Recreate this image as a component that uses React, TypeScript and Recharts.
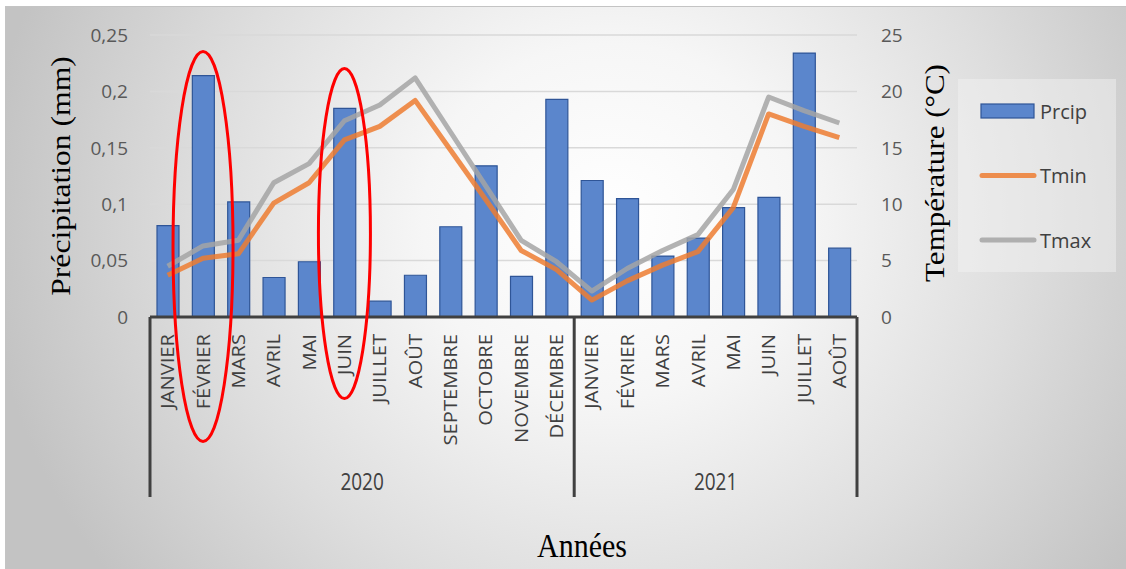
import React from 'react';
import {
  ComposedChart,
  Bar,
  Line,
  XAxis,
  YAxis,
  CartesianGrid,
  Legend,
  ReferenceDot,
} from 'recharts';

const months2020 = ['JANVIER', 'FÉVRIER', 'MARS', 'AVRIL', 'MAI', 'JUIN', 'JUILLET', 'AOÛT', 'SEPTEMBRE', 'OCTOBRE', 'NOVEMBRE', 'DÉCEMBRE'];
const months2021 = ['JANVIER', 'FÉVRIER', 'MARS', 'AVRIL', 'MAI', 'JUIN', 'JUILLET', 'AOÛT'];

// monthly precipitation (mm) and temperatures (°C), Jan 2020 – Aug 2021
const prcip = [0.081, 0.214, 0.102, 0.035, 0.049, 0.185, 0.014, 0.037, 0.080, 0.134, 0.036, 0.193, 0.121, 0.105, 0.054, 0.070, 0.097, 0.106, 0.234, 0.061];
const tmin = [3.7, 5.2, 5.6, 10.1, 11.9, 15.7, 16.9, 19.2, 14.8, 10.4, 5.9, 4.2, 1.5, 3.2, 4.6, 5.8, 9.7, 18.0, 16.9, 15.9];
const tmax = [4.5, 6.3, 6.8, 11.9, 13.6, 17.4, 18.8, 21.2, 16.4, 11.6, 6.8, 4.9, 2.3, 4.3, 5.9, 7.3, 11.3, 19.5, 18.3, 17.2];

const precipTicks = [0, 0.05, 0.1, 0.15, 0.2, 0.25];
const tempTicks = [0, 5, 10, 15, 20, 25];

// months highlighted with a red ring
const circled = ['2020-FÉVRIER', '2020-JUIN'];

const rows = [
  ...months2020.map((month) => ({ year: '2020', month })),
  ...months2021.map((month) => ({ year: '2021', month })),
].map((r, i) => ({
  ...r,
  key: `${r.year}-${r.month}`,
  prcip: prcip[i],
  tmin: tmin[i],
  tmax: tmax[i],
}));

const SANS = "'Open Sans', sans-serif";
const SERIF = "'Liberation Serif', 'Times New Roman', serif";
const AXIS_DARK = '#404040';

// two-level category axis: month names, then year groups with separators
const MonthTick = (props: any) => {
  const { x, y, payload, index } = props;
  const row = rows[index];
  if (!row) return null;
  const half = payload?.offset ?? 0;
  const groupStart = index === 0 || rows[index - 1].year !== row.year;
  const isLast = index === rows.length - 1;
  const groupSize = rows.filter((r) => r.year === row.year).length;
  return (
    <g>
      <text
        transform={`translate(${x},${y + 17}) rotate(-90) scale(1.12,1)`}
        textAnchor="end"
        dominantBaseline="central"
        fontFamily={SANS}
        fontSize={18}
        fill={AXIS_DARK}
      >
        {row.month}
      </text>
      {groupStart && (
        <>
          <line x1={x - half} x2={x - half} y1={y} y2={y + 180} stroke={AXIS_DARK} strokeWidth={3} />
          <text
            transform={`translate(${x + (groupSize - 1) * half},${y + 164}) scale(1,1.2)`}
            textAnchor="middle"
            dominantBaseline="central"
            fontFamily={SANS}
            fontSize={19}
            fill={AXIS_DARK}
          >
            {row.year}
          </text>
        </>
      )}
      {isLast && (
        <line x1={x + half} x2={x + half} y1={y} y2={y + 180} stroke={AXIS_DARK} strokeWidth={3} />
      )}
    </g>
  );
};

const LeftTitle = (props: any) => {
  const vb = props.viewBox;
  return (
    <text
      transform={`translate(${vb.x + 61},${vb.y + vb.height / 2}) rotate(-90) scale(1.17,1)`}
      textAnchor="middle"
      dominantBaseline="central"
      fontFamily={SERIF}
      fontSize={27}
      fill="#000"
    >
      Précipitation (mm)
    </text>
  );
};

const RightTitle = (props: any) => {
  const vb = props.viewBox;
  return (
    <text
      transform={`translate(${vb.x + 78},${vb.y + vb.height / 2 - 3}) rotate(-90) scale(1.15,1)`}
      textAnchor="middle"
      dominantBaseline="central"
      fontFamily={SERIF}
      fontSize={27}
      fill="#000"
    >
      Température (°C)
    </text>
  );
};

const BottomTitle = (props: any) => {
  const vb = props.viewBox;
  return (
    <text
      transform={`translate(${vb.x + 432},${vb.y + 240}) scale(1,1.1)`}
      textAnchor="middle"
      fontFamily={SERIF}
      fontSize={30}
      fill="#000"
    >
      Années
    </text>
  );
};

const legendOrder = ['prcip', 'tmin', 'tmax'];

const LegendBox = (props: any) => {
  const payload: any[] = props.payload || [];
  const items = legendOrder
    .map((k) => payload.find((p) => p.dataKey === k))
    .filter(Boolean);
  return (
    <svg width={158} height={193} style={{ display: 'block' }}>
      <rect x={0} y={0} width={158} height={193} fill="#f4f4f4" fillOpacity={0.45} />
      {items.map((p: any, i: number) => {
        const cy = 32 + i * 64.5;
        return (
          <g key={p.dataKey}>
            {p.type === 'rect' ? (
              <rect x={23} y={cy - 7} width={53} height={14} fill={p.color} stroke="#2f5597" strokeWidth={1.2} />
            ) : (
              <line x1={24} x2={76} y1={cy} y2={cy} stroke={p.color} strokeOpacity={0.85} strokeWidth={5} strokeLinecap="round" />
            )}
            <text x={82} y={cy} dominantBaseline="central" fontFamily={SANS} fontSize={20} fill={AXIS_DARK}>
              {p.value}
            </text>
          </g>
        );
      })}
    </svg>
  );
};

const ringSize: Record<string, { rx: number; ry: number; y: number }> = {
  '2020-FÉVRIER': { rx: 30, ry: 195, y: 0.0625 },
  '2020-JUIN': { rx: 26, ry: 165, y: 0.074 },
};

const App: React.FC = () => {
  return (
    <div style={{ position: 'relative', width: 1126, height: 569, background: '#fff' }}>
      <style>{'body{margin:0}'}</style>
      <div
        style={{
          position: 'absolute',
          left: 5,
          top: 6,
          right: 0,
          bottom: 0,
          borderTop: '1px solid #c4c4c4',
          borderLeft: '1px solid #c4c4c4',
          background:
            'radial-gradient(ellipse 56% 105% at 54% 38%, #ffffff 0%, #f6f6f6 30%, #dedede 65%, #c3c3c3 100%)',
        }}
      />
      <div style={{ position: 'absolute', left: 0, top: 0 }}>
        <ComposedChart
          width={1126}
          height={569}
          data={rows}
          margin={{ top: 35, right: 189, bottom: 0, left: 0 }}
        >
          <CartesianGrid yAxisId="left" vertical={false} stroke="#d9d9d9" strokeWidth={1.5} />
          <XAxis
            dataKey="key"
            interval={0}
            height={252}
            tickSize={0}
            tickMargin={0}
            tickLine={false}
            axisLine={{ stroke: AXIS_DARK, strokeWidth: 3 }}
            tick={<MonthTick />}
            label={<BottomTitle />}
          />
          <YAxis
            yAxisId="left"
            width={150}
            domain={[0, 0.25]}
            ticks={precipTicks}
            axisLine={false}
            tickLine={false}
            tickSize={0}
            tickMargin={22}
            tickFormatter={(v: number) => String(v).replace('.', ',')}
            tick={{ fontFamily: SANS, fontSize: 19, fill: '#595959' }}
            label={<LeftTitle />}
          />
          <YAxis
            yAxisId="right"
            orientation="right"
            width={80}
            domain={[0, 25]}
            ticks={tempTicks}
            axisLine={false}
            tickLine={false}
            tickSize={0}
            tickMargin={24}
            tick={{ fontFamily: SANS, fontSize: 19, fill: '#595959' }}
            label={<RightTitle />}
          />
          <Bar
            yAxisId="left"
            dataKey="prcip"
            name="Prcip"
            fill="#5b86cc"
            stroke="#2f5597"
            strokeWidth={1.2}
            barSize={22}
            isAnimationActive={false}
          />
          <Line
            yAxisId="right"
            type="linear"
            dataKey="tmin"
            name="Tmin"
            stroke="#ed7d31"
            strokeOpacity={0.85}
            strokeWidth={5}
            strokeLinejoin="round"
            dot={false}
            activeDot={false}
            isAnimationActive={false}
          />
          <Line
            yAxisId="right"
            type="linear"
            dataKey="tmax"
            name="Tmax"
            stroke="#a5a5a5"
            strokeOpacity={0.85}
            strokeWidth={5}
            strokeLinejoin="round"
            dot={false}
            activeDot={false}
            isAnimationActive={false}
          />
          {circled.map((key) => (
            <ReferenceDot
              key={key}
              yAxisId="left"
              x={key}
              y={ringSize[key].y}
              ifOverflow="visible"
              shape={(p: any) => (
                <ellipse
                  cx={p.cx}
                  cy={p.cy}
                  rx={ringSize[key].rx}
                  ry={ringSize[key].ry}
                  fill="none"
                  stroke="#ff0000"
                  strokeWidth={3}
                />
              )}
            />
          ))}
          <Legend
            layout="vertical"
            align="center"
            verticalAlign="middle"
            content={<LegendBox />}
            wrapperStyle={{ left: 958, top: 79, width: 158, height: 193 }}
          />
        </ComposedChart>
      </div>
    </div>
  );
};

export default App;
